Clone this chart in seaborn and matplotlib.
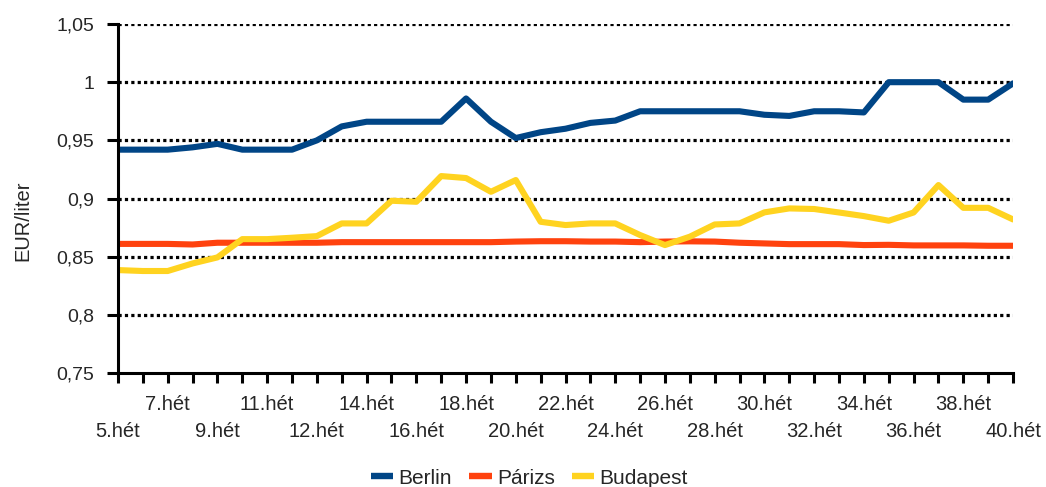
import pandas as pd
import numpy as np
import matplotlib.pyplot as plt
import seaborn as sns

# Heti üzemanyagárak (EUR/liter), 37 mérési pont
berlin = [0.942, 0.942, 0.942, 0.944, 0.947, 0.942, 0.942, 0.942, 0.950, 0.962,
          0.966, 0.966, 0.966, 0.966, 0.986, 0.966, 0.952, 0.957, 0.960, 0.965,
          0.967, 0.975, 0.975, 0.975, 0.975, 0.975, 0.972, 0.971, 0.975, 0.975,
          0.974, 1.000, 1.000, 1.000, 0.985, 0.985, 0.999]
parizs = [0.861, 0.861, 0.861, 0.8605, 0.862, 0.862, 0.862, 0.862, 0.862, 0.8625,
          0.8625, 0.8625, 0.8625, 0.8625, 0.8625, 0.8625, 0.863, 0.8633, 0.8633, 0.863,
          0.863, 0.8625, 0.863, 0.8632, 0.863, 0.862, 0.8614, 0.8608, 0.8608, 0.8608,
          0.860, 0.8602, 0.8597, 0.8597, 0.8597, 0.8594, 0.8594]
budapest = [0.8385, 0.8377, 0.8377, 0.8442, 0.8494, 0.8651, 0.8651, 0.8663, 0.8677, 0.8786,
            0.8786, 0.8981, 0.8972, 0.9193, 0.9176, 0.9058, 0.9159, 0.880, 0.8772, 0.8786,
            0.8786, 0.8686, 0.860, 0.8672, 0.8777, 0.8786, 0.8881, 0.8915, 0.891, 0.888,
            0.8849, 0.8809, 0.888, 0.9116, 0.892, 0.892, 0.882]

# csak minden második pont kap feliratot, két sorban váltakozva
tick_weeks = [5, 7, 9, 11, 12, 14, 16, 18, 20, 22, 24, 26, 28, 30, 32, 34, 36, 38, 40]
cities = ["Berlin", "Párizs", "Budapest"]
colors = {"Berlin": "#004586", "Párizs": "#ff420e", "Budapest": "#ffd320"}

n = len(berlin)
df = pd.DataFrame({
    "pont": list(range(n)) * 3,
    "ar": berlin + parizs + budapest,
    "varos": [c for c in cities for _ in range(n)],
})

sns.set_style("white")
plt.rcParams["font.family"] = ["Liberation Sans", "DejaVu Sans"]
fs = 14.5

fig = plt.figure(figsize=(10.46, 4.87), dpi=100)
ax = fig.add_axes([0.1128, 0.234, 0.8557, 0.7167])

sns.lineplot(data=df, x="pont", y="ar", hue="varos", palette=colors,
             linewidth=4.4, ax=ax, legend=False)

ax.set_xlim(0, n - 1)
ax.set_ylim(0.75, 1.05)

yt = [0.75, 0.8, 0.85, 0.9, 0.95, 1.0, 1.05]
ax.set_yticks(yt)
ax.set_yticklabels([("%g" % v).replace(".", ",") for v in yt], fontsize=14)
for v in yt[1:]:
    ax.axhline(v, color="black", lw=2.3, ls=(0, (1.0, 1.0)), zorder=0.5)

# felső sor: major tick-ek feliratai, alsó sor: hossz nélküli minor tick-ek
pos_labeled = list(range(0, n, 2))
upper_pos = pos_labeled[1::2]
upper_lab = ["%d.hét" % w for w in tick_weeks[1::2]]
lower_pos = pos_labeled[0::2]
lower_lab = ["%d.hét" % w for w in tick_weeks[0::2]]

ax.xaxis.remove_overlapping_locs = False
major_lab = []
for k in range(n):
    major_lab.append(upper_lab[upper_pos.index(k)] if k in upper_pos else "")
ax.set_xticks(range(n))
ax.set_xticklabels(major_lab, fontsize=fs)
ax.set_xticks(lower_pos, minor=True)
ax.set_xticklabels(lower_lab, minor=True, fontsize=fs)

for s in ["top", "right"]:
    ax.spines[s].set_visible(False)
for s in ["left", "bottom"]:
    ax.spines[s].set_linewidth(2.2)
    ax.spines[s].set_color("black")
ax.tick_params(axis="both", which="major", direction="out", length=7, width=2.2,
               color="black", left=True, bottom=True)
ax.tick_params(axis="y", length=8, pad=9)
ax.tick_params(axis="x", which="major", pad=9)
ax.tick_params(axis="x", which="minor", length=0, pad=35.5, bottom=True)

ax.set_xlabel("")
ax.set_ylabel("EUR/liter", fontsize=fs)
ax.yaxis.set_label_coords(-0.096, 0.435)

handles = [plt.Line2D([], [], color=colors[c], lw=4.6, solid_capstyle="butt") for c in cities]
fig.legend(handles, cities, loc="center", bbox_to_anchor=(0.506, 0.018), ncol=3,
           frameon=False, fontsize=15, handlelength=1.1, handletextpad=0.25,
           columnspacing=0.8)

plt.savefig("out.png", dpi=100)
